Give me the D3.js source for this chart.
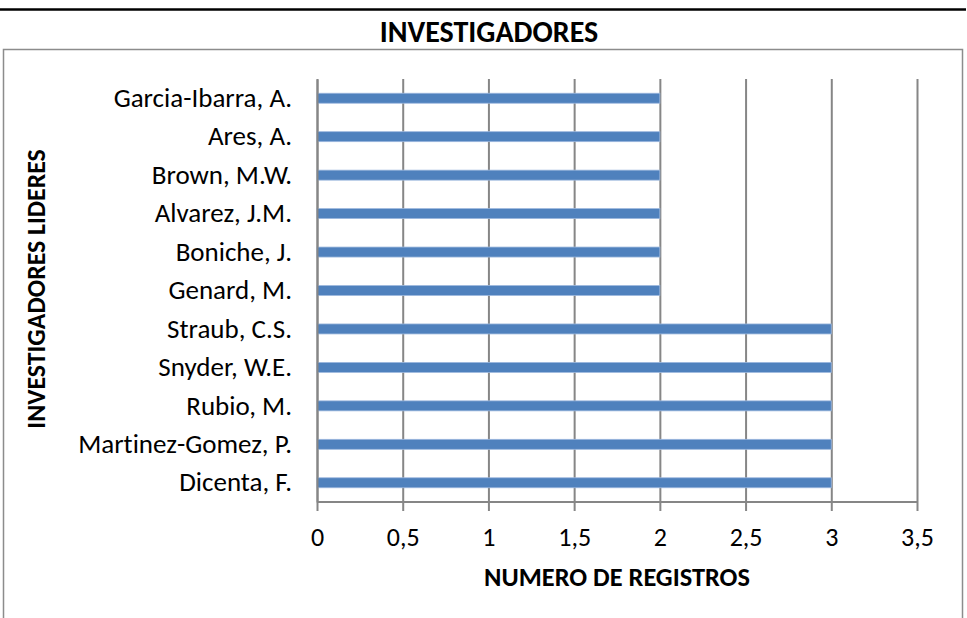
<!DOCTYPE html>
<html>
<head>
<meta charset="utf-8">
<script src="https://cdn.jsdelivr.net/npm/d3@7/dist/d3.min.js"></script>
<style>
  html, body { margin: 0; padding: 0; background: #fff; }
  svg { display: block; }
  text { font-family: Carlito, Lato, "Open Sans", sans-serif; fill: #000; font-variant-ligatures: none; }
</style>
</head>
<body>
<svg id="chart" width="967" height="618"></svg>
<script>
const categories = ["Garcia-Ibarra, A.", "Ares, A.", "Brown, M.W.", "Alvarez, J.M.", "Boniche, J.", "Genard, M.", "Straub, C.S.", "Snyder, W.E.", "Rubio, M.", "Martinez-Gomez, P.", "Dicenta, F."];
const values = [2, 2, 2, 2, 2, 2, 3, 3, 3, 3, 3];
const xTicks = [0, 0.5, 1, 1.5, 2, 2.5, 3, 3.5];
const xTickLabels = ["0", "0,5", "1", "1,5", "2", "2,5", "3", "3,5"];
const title = "INVESTIGADORES";
const xTitle = "NUMERO DE REGISTROS";
const yTitle = "INVESTIGADORES LIDERES";

const svg = d3.select("#chart");
const plot = { left: 317, right: 917, top: 79, bottom: 502 };
const gridColor = "#868686";
const labelFont = "Carlito, Lato, sans-serif";

// top rule of the page
svg.append("line").attr("x1", 0).attr("x2", 966).attr("y1", 9.5).attr("y2", 9.5)
  .attr("stroke", "#000").attr("stroke-width", 2.5);

// chart frame
svg.append("rect").attr("x", 3.5).attr("y", 49.5).attr("width", 959).attr("height", 620)
  .attr("fill", "none").attr("stroke", "#8c8c8c").attr("stroke-width", 1.5);

// title
svg.append("text").attr("x", 489).attr("y", 42).attr("text-anchor", "middle")
  .attr("font-weight", "bold").attr("font-size", 30).text(title);

const x = d3.scaleLinear().domain([0, 3.5]).range([plot.left, plot.right]);
const y = d3.scaleBand().domain(categories).range([plot.top, plot.bottom]).paddingInner(0.74).paddingOuter(0.37);

// gridlines + ticks
const xAxis = d3.axisBottom(x).tickValues(xTicks)
  .tickSize(-(plot.bottom - plot.top))
  .tickFormat((d, i) => xTickLabels[i]);
const gx = svg.append("g").attr("transform", `translate(0,${plot.bottom})`).call(xAxis);
gx.select(".domain").remove();
gx.selectAll(".tick line").attr("stroke", gridColor).attr("stroke-width", 2)
  .attr("y2", -(plot.bottom - plot.top)).attr("y1", 9);
gx.selectAll(".tick text").attr("y", 35).attr("dy", "0.35em").attr("font-size", 26)
  .style("font-family", labelFont).attr("fill", "#000");

// bottom axis line
svg.append("line").attr("x1", plot.left).attr("x2", plot.right)
  .attr("y1", plot.bottom).attr("y2", plot.bottom)
  .attr("stroke", gridColor).attr("stroke-width", 2);

// bars
svg.append("g").selectAll("rect").data(categories).join("rect")
  .attr("x", x(0))
  .attr("y", d => y(d))
  .attr("width", (d, i) => x(values[i]) - x(0))
  .attr("height", y.bandwidth())
  .attr("fill", "#4F81BD")
  .attr("stroke", "#9db8de").attr("stroke-width", 0.8);

// left axis
const yAxis = d3.axisLeft(y).tickSize(0).tickPadding(25);
const gy = svg.append("g").attr("transform", `translate(${plot.left},0)`).call(yAxis);
gy.select(".domain").attr("stroke", gridColor).attr("stroke-width", 2);
gy.selectAll(".tick text").attr("font-size", 27)
  .style("font-family", labelFont).attr("fill", "#000");

// axis titles
svg.append("text").attr("x", 617).attr("y", 586).attr("text-anchor", "middle")
  .attr("font-weight", "bold").attr("font-size", 26.4).text(xTitle);
svg.append("text").attr("transform", `translate(45,289) rotate(-90)`).attr("text-anchor", "middle")
  .attr("font-weight", "bold").attr("font-size", 25.8).text(yTitle);
</script>
</body>
</html>
